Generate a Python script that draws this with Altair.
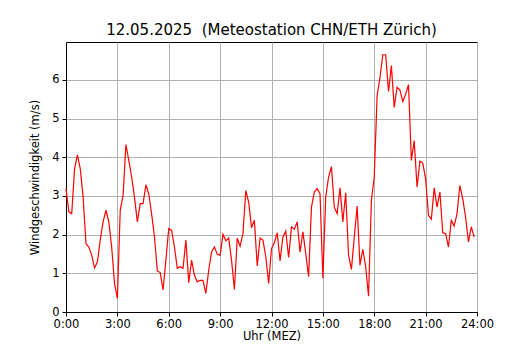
import altair as alt
import pandas as pd

# wind speed (m/s), 10-minute values from 0:00 to 23:50
speed = [
    3.19, 2.59, 2.54, 3.70, 4.06, 3.70, 2.97, 1.77, 1.68, 1.47,
    1.14, 1.29, 1.86, 2.33, 2.63, 2.33, 1.68, 0.74, 0.35, 2.63,
    3.02, 4.33, 3.92, 3.49, 2.97, 2.33, 2.80, 2.80, 3.29, 3.05,
    2.54, 1.94, 1.06, 1.02, 0.57, 1.34, 2.16, 2.11, 1.68, 1.13,
    1.17, 1.13, 1.86, 0.76, 1.34,
    0.95, 0.78, 0.82, 0.82, 0.48, 1.08, 1.55, 1.68, 1.49, 1.47,
    2.01, 1.84, 1.91, 1.34, 0.58, 1.91, 1.70, 2.03, 3.14, 2.84,
    2.18, 2.37, 1.19, 1.91, 1.86, 1.43, 0.74, 1.64, 1.79, 2.05,
    1.32, 1.94, 2.09, 1.41, 2.20, 2.14, 2.33, 1.55, 2.07, 1.51,
    0.91, 2.71, 3.10, 3.19, 3.06,
    0.87, 2.97, 3.49, 3.76, 2.71, 2.54, 3.21, 2.33, 3.08, 1.47,
    1.10, 1.94, 2.74, 1.21, 1.62, 1.17, 0.41, 2.89, 3.49, 5.59,
    6.06, 6.65, 6.65, 5.70, 6.37, 5.29, 5.81, 5.74, 5.44, 5.63,
    5.88, 3.92, 4.43, 3.23, 3.90, 3.85, 3.44, 2.50, 2.40, 3.21,
    2.71, 3.10, 2.05, 2.03, 1.68, 2.37, 2.22, 2.54, 3.27, 2.93,
    2.45, 1.81, 2.20, 1.94,
]
hours = [i / 6 for i in range(len(speed))]
x_ticks = [0, 3, 6, 9, 12, 15, 18, 21, 24]
y_ticks = [0, 1, 2, 3, 4, 5, 6]

df = pd.DataFrame({"h": hours, "v": speed})

FONT = "DejaVu Sans"

chart = alt.Chart(df).mark_line(color="#ff0000", strokeWidth=1.2).encode(
    x=alt.X(
        "h:Q",
        scale=alt.Scale(domain=[0, 24], nice=False, zero=False),
        axis=alt.Axis(
            values=x_ticks,
            labelExpr="floor(datum.value) + ':00'",
            labelFlush=False,
            labelBound=False,
            labelOverlap=False,
            labelPadding=2,
            title="Uhr (MEZ)",
            titleBaseline="alphabetic",
            titleY=27.5,
            grid=True,
        ),
    ),
    y=alt.Y(
        "v:Q",
        scale=alt.Scale(domain=[0, 6.98], nice=False),
        axis=alt.Axis(values=y_ticks, title="Windgeschwindigkeit (m/s)", grid=True),
    ),
).properties(
    width=411,
    height=270,
    title=alt.Title(
        "12.05.2025 \u00a0(Meteostation CHN/ETH Zürich)",
        font=FONT,
        fontSize=15,
        fontWeight="normal",
        color="black",
        offset=4,
    ),
    autosize=alt.AutoSizeParams(type="none"),
    padding={"left": 58, "top": 34, "right": 45, "bottom": 30},
).configure_view(
    stroke="black", strokeWidth=1
).configure_axis(
    labelFont=FONT,
    labelFontSize=11.5,
    labelColor="black",
    titleFont=FONT,
    titleFontSize=11.5,
    titleFontWeight="normal",
    titleColor="black",
    tickColor="black",
    tickSize=4,
    domainColor="black",
    gridColor="#b0b0b0",
    gridWidth=1,
    gridOpacity=1,
    labelPadding=3,
).configure_axisY(
    titlePadding=11,
)

chart.save("out.html", embed_options={"renderer": "svg", "actions": False})
